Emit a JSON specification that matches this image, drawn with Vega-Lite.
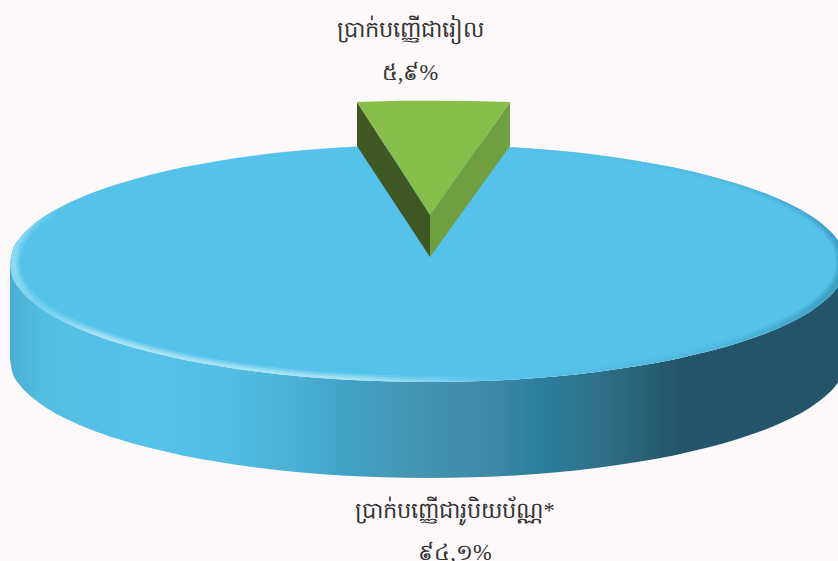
{"$schema":"https://vega.github.io/schema/vega-lite/v6.json","width":838,"height":561,"autosize":"none","padding":0,"background":"#fdf8fa","view":{"stroke":null},
"datasets":{
"side":[{"x":10,"y":263.5,"y2":359.5},{"x":12.3,"y":275.9,"y2":371.9},{"x":19.1,"y":288.1,"y2":384.1},{"x":30.5,"y":300.1,"y2":396.1},{"x":46.1,"y":311.7,"y2":407.7},{"x":66,"y":322.8,"y2":418.8},{"x":89.8,"y":333.2,"y2":429.2},{"x":117.4,"y":342.8,"y2":438.8},{"x":148.3,"y":351.6,"y2":447.6},{"x":182.3,"y":359.4,"y2":455.4},{"x":219,"y":366.1,"y2":462.1},{"x":258,"y":371.8,"y2":467.8},{"x":298.8,"y":376.2,"y2":472.2},{"x":341.1,"y":379.4,"y2":475.4},{"x":384.3,"y":381.3,"y2":477.3},{"x":428,"y":382,"y2":478},{"x":471.7,"y":381.3,"y2":477.3},{"x":514.9,"y":379.4,"y2":475.4},{"x":557.2,"y":376.2,"y2":472.2},{"x":598,"y":371.8,"y2":467.8},{"x":637,"y":366.1,"y2":462.1},{"x":673.7,"y":359.4,"y2":455.4},{"x":707.7,"y":351.6,"y2":447.6},{"x":738.6,"y":342.8,"y2":438.8},{"x":766.2,"y":333.2,"y2":429.2},{"x":790,"y":322.8,"y2":418.8},{"x":809.9,"y":311.7,"y2":407.7},{"x":825.5,"y":300.1,"y2":396.1},{"x":836.9,"y":288.1,"y2":384.1},{"x":843.7,"y":275.9,"y2":371.9},{"x":846,"y":263.5,"y2":359.5}],
"rim":[{"x":10,"y":263.5,"y2":263.5},{"x":12.3,"y":251.1,"y2":275.9},{"x":19.1,"y":238.9,"y2":288.1},{"x":30.5,"y":226.9,"y2":300.1},{"x":46.1,"y":215.3,"y2":311.7},{"x":66,"y":204.3,"y2":322.8},{"x":89.8,"y":193.8,"y2":333.2},{"x":117.4,"y":184.2,"y2":342.8},{"x":148.3,"y":175.4,"y2":351.6},{"x":182.3,"y":167.6,"y2":359.4},{"x":219,"y":160.9,"y2":366.1},{"x":258,"y":155.2,"y2":371.8},{"x":298.8,"y":150.8,"y2":376.2},{"x":341.1,"y":147.6,"y2":379.4},{"x":384.3,"y":145.7,"y2":381.3},{"x":428,"y":145,"y2":382},{"x":471.7,"y":145.7,"y2":381.3},{"x":514.9,"y":147.6,"y2":379.4},{"x":557.2,"y":150.8,"y2":376.2},{"x":598,"y":155.2,"y2":371.8},{"x":637,"y":160.9,"y2":366.1},{"x":673.7,"y":167.6,"y2":359.4},{"x":707.7,"y":175.4,"y2":351.6},{"x":738.6,"y":184.2,"y2":342.8},{"x":766.2,"y":193.8,"y2":333.2},{"x":790,"y":204.3,"y2":322.8},{"x":809.9,"y":215.3,"y2":311.7},{"x":825.5,"y":226.9,"y2":300.1},{"x":836.9,"y":238.9,"y2":288.1},{"x":843.7,"y":251.1,"y2":275.9},{"x":846,"y":263.5,"y2":263.5}],
"top":[{"x":20,"y":262,"y2":262},{"x":22.2,"y":250.1,"y2":273.9},{"x":28.9,"y":238.4,"y2":285.6},{"x":40,"y":226.9,"y2":297.1},{"x":55.3,"y":215.8,"y2":308.2},{"x":74.7,"y":205.2,"y2":318.8},{"x":97.9,"y":195.3,"y2":328.7},{"x":124.8,"y":186.1,"y2":337.9},{"x":155,"y":177.7,"y2":346.3},{"x":188.2,"y":170.2,"y2":353.8},{"x":224,"y":163.7,"y2":360.3},{"x":262.1,"y":158.3,"y2":365.7},{"x":301.9,"y":154.1,"y2":369.9},{"x":343.2,"y":151,"y2":373},{"x":385.4,"y":149.1,"y2":374.9},{"x":428,"y":148.5,"y2":375.5},{"x":470.6,"y":149.1,"y2":374.9},{"x":512.8,"y":151,"y2":373},{"x":554.1,"y":154.1,"y2":369.9},{"x":593.9,"y":158.3,"y2":365.7},{"x":632,"y":163.7,"y2":360.3},{"x":667.8,"y":170.2,"y2":353.8},{"x":701,"y":177.7,"y2":346.3},{"x":731.2,"y":186.1,"y2":337.9},{"x":758.1,"y":195.3,"y2":328.7},{"x":781.3,"y":205.2,"y2":318.8},{"x":800.7,"y":215.8,"y2":308.2},{"x":816,"y":226.9,"y2":297.1},{"x":827.1,"y":238.4,"y2":285.6},{"x":833.8,"y":250.1,"y2":273.9},{"x":836,"y":262,"y2":262}],
"wedgeLeft":[{"x":357,"y":102,"y2":146},{"x":430,"y":215,"y2":257}],
"wedgeRight":[{"x":430,"y":215,"y2":257},{"x":510,"y":102,"y2":146}],
"wedgeTop":[{"x":357,"y":102,"y2":102},{"x":400,"y":100.8,"y2":168},{"x":430,"y":100.8,"y2":215},{"x":470,"y":101,"y2":158.5},{"x":510,"y":102,"y2":102}],
"labels":[{"text":"ប្រាក់បញ្ញើជារៀល","x":410,"y":30},{"text":"៥,៩%","x":410,"y":73},{"text":"ប្រាក់បញ្ញើជារូបិយប័ណ្ណ*","x":455,"y":511},{"text":"៩៤,១%","x":455,"y":553}]
},
"encoding":{"x":{"field":"x","type":"quantitative","scale":{"domain":[0,838],"nice":false,"zero":false},"axis":null},"y":{"field":"y","type":"quantitative","scale":{"domain":[561,0],"nice":false,"zero":false},"axis":null}},
"layer":[
{"data":{"name":"side"},"mark":{"type":"area","clip":true,"interpolate":"monotone","color":{"gradient":"linear","x1":0,"y1":0,"x2":1,"y2":0,"stops":[{"offset":0,"color":"#4aaed4"},{"offset":0.04,"color":"#54bde2"},{"offset":0.17,"color":"#55c2ea"},{"offset":0.26,"color":"#52bde3"},{"offset":0.35,"color":"#4aaed4"},{"offset":0.4,"color":"#3fa2c6"},{"offset":0.47,"color":"#4596b5"},{"offset":0.58,"color":"#3f88a5"},{"offset":0.63,"color":"#2c7f9c"},{"offset":0.71,"color":"#2e6f87"},{"offset":0.8,"color":"#24546a"},{"offset":1,"color":"#24546a"}]}},"encoding":{"y2":{"field":"y2"}}},
{"data":{"name":"rim"},"mark":{"type":"area","clip":true,"interpolate":"monotone","color":{"gradient":"linear","x1":0,"y1":0,"x2":0,"y2":1,"stops":[{"offset":0,"color":"#55c2ea"},{"offset":0.66,"color":"#55c2ea"},{"offset":0.8,"color":"#a6e2f4"},{"offset":1,"color":"#a6e2f4"}]}},"encoding":{"y2":{"field":"y2"}}},
{"data":{"name":"rim"},"mark":{"type":"area","clip":true,"interpolate":"monotone","color":{"gradient":"linear","x1":0,"y1":0,"x2":1,"y2":0,"stops":[{"offset":0,"color":"rgba(140,218,242,1)"},{"offset":0.07,"color":"rgba(140,218,242,0)"},{"offset":0.42,"color":"rgba(85,194,234,0)"},{"offset":0.58,"color":"rgba(85,194,234,1)"},{"offset":0.85,"color":"rgba(80,184,222,1)"},{"offset":1,"color":"rgba(61,158,196,1)"}]}},"encoding":{"y2":{"field":"y2"}}},
{"data":{"name":"top"},"mark":{"type":"area","clip":true,"interpolate":"monotone","fill":"#55c2ea","stroke":"#55c2ea","strokeWidth":8,"strokeOpacity":0.35},"encoding":{"y2":{"field":"y2"}}},
{"data":{"name":"top"},"mark":{"type":"area","clip":true,"interpolate":"monotone","fill":"#55c2ea","stroke":"#55c2ea","strokeWidth":4,"strokeOpacity":0.5},"encoding":{"y2":{"field":"y2"}}},
{"data":{"name":"wedgeLeft"},"mark":{"type":"area","color":"#3f5723"},"encoding":{"y2":{"field":"y2"}}},
{"data":{"name":"wedgeRight"},"mark":{"type":"area","color":"#6f9f40"},"encoding":{"y2":{"field":"y2"}}},
{"data":{"name":"wedgeTop"},"mark":{"type":"area","color":"#85bf4a"},"encoding":{"y2":{"field":"y2"}}},
{"data":{"name":"labels"},"mark":{"type":"text","font":"Liberation Serif","fontSize":22.5,"color":"#333333","align":"center","baseline":"middle"},"encoding":{"text":{"field":"text"}}}
]}
